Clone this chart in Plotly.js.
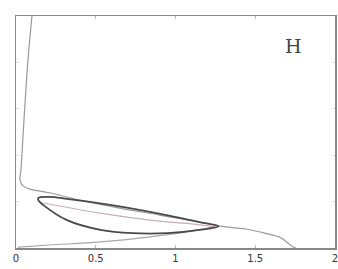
<!DOCTYPE html>
<html>
<head>
<meta charset="utf-8">
<script src="https://cdn.plot.ly/plotly-3.0.1.min.js"></script>
<style>html,body{margin:0;padding:0;background:#fff;}#chart{width:338px;height:269px;}</style>
</head>
<body>
<div id="chart"></div>
<script>
// Outer light curve: steep branch from top, upper edge of outer loop, tail to axis
const outerX = [0.10, 0.075, 0.05, 0.031, 0.025, 0.044, 0.088, 0.21, 0.40, 0.65, 0.90, 1.15, 1.28, 1.44, 1.56, 1.66, 1.73, 1.755];
const outerY = [5.0, 4.05, 2.76, 1.68, 1.47, 1.34, 1.27, 1.19, 1.03, 0.86, 0.71, 0.56, 0.47, 0.41, 0.32, 0.22, 0.04, 0.0];
// Lower edge of outer loop
const lowerX = [0.0125, 0.21, 0.53, 0.84, 1.15, 1.27];
const lowerY = [0.02, 0.065, 0.13, 0.24, 0.39, 0.47];
// Dark inner loop
const loopX = [0.14, 0.21, 0.32, 0.59, 0.84, 1.15, 1.27, 1.15, 0.95, 0.73, 0.53, 0.32, 0.17, 0.14, 0.14];
const loopY = [1.08, 1.10, 1.06, 0.93, 0.78, 0.56, 0.47, 0.39, 0.32, 0.32, 0.39, 0.60, 0.93, 1.03, 1.08];
// Faint middle line inside loop
const midX = [0.17, 0.53, 0.84, 1.15, 1.26];
const midY = [0.97, 0.75, 0.60, 0.50, 0.45];
const xTicks = [0, 0.5, 1, 1.5, 2];
const xTickLabels = ['0', '0.5', '1', '1.5', '2'];
const yTicks = [1, 2, 3, 4];

const traces = [
  {x: outerX, y: outerY, mode: 'lines', line: {color: '#9a9a9a', width: 1.2, shape: 'spline'}},
  {x: lowerX, y: lowerY, mode: 'lines', line: {color: '#a8a8a8', width: 1.2, shape: 'spline'}},
  {x: midX, y: midY, mode: 'lines', line: {color: '#c8b0b4', width: 1.2, shape: 'spline'}},
  {x: loopX, y: loopY, mode: 'lines', line: {color: '#4a4a4a', width: 1.8, shape: 'spline'}}
];

const layout = {
  width: 338, height: 269,
  margin: {l: 16, r: 3, t: 16, b: 21},
  paper_bgcolor: '#fff', plot_bgcolor: '#fff',
  showlegend: false,
  xaxis: {
    range: [0, 2], tickvals: xTicks, ticktext: xTickLabels,
    showgrid: false, zeroline: false,
    showline: true, linecolor: '#888', linewidth: 1.5, mirror: 'ticks',
    ticks: 'inside', ticklen: 3, tickcolor: '#bbb',
    ticklabeloverflow: 'allow',
    tickfont: {family: 'DejaVu Sans', size: 10, color: '#333'}
  },
  yaxis: {
    range: [0, 5], tickvals: yTicks, showticklabels: false,
    showgrid: false, zeroline: false,
    showline: true, linecolor: '#888', linewidth: 1.5, mirror: 'ticks',
    ticks: 'inside', ticklen: 3, tickcolor: '#ddd'
  },
  annotations: [{
    xref: 'paper', yref: 'paper', x: 0.87, y: 0.87, xanchor: 'center', yanchor: 'middle',
    text: 'H', showarrow: false,
    font: {family: 'DejaVu Serif', size: 19, color: '#444'}
  }]
};

Plotly.newPlot('chart', traces, layout, {displayModeBar: false, staticPlot: true});
</script>
</body>
</html>
